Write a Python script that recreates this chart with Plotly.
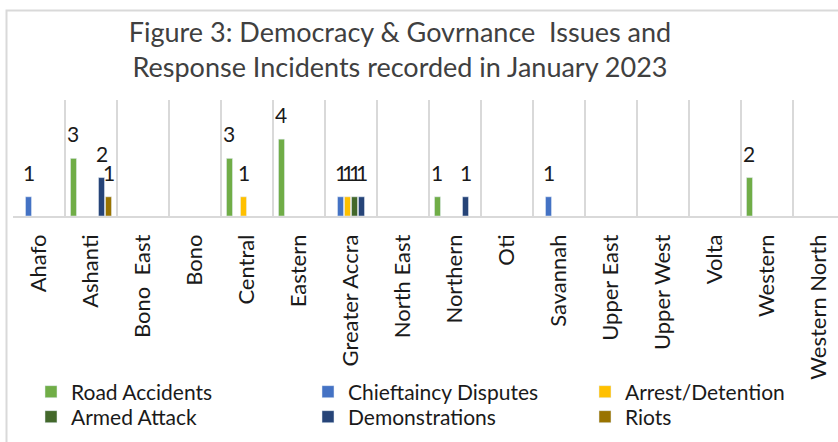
import plotly.graph_objects as go

regions = ["Ahafo", "Ashanti", "Bono\u00a0 East", "Bono", "Central", "Eastern",
           "Greater Accra", "North East", "Northern", "Oti", "Savannah",
           "Upper East", "Upper West", "Volta", "Western", "Western North"]

road_accidents = [None, 3, None, None, 3, 4, None, None, 1, None, None, None, None, None, 2, None]
chieftaincy = [1, None, None, None, None, None, 1, None, None, None, 1, None, None, None, None, None]
arrest = [None, None, None, None, 1, None, 1, None, None, None, None, None, None, None, None, None]
armed_attack = [None, None, None, None, None, None, 1, None, None, None, None, None, None, None, None, None]
demonstrations = [None, 2, None, None, None, None, 1, None, 1, None, None, None, None, None, None, None]
riots = [None, 1, None, None, None, None, None, None, None, None, None, None, None, None, None, None]

series = [
    ("Road Accidents", road_accidents, "#70AD47"),
    ("Chieftaincy Disputes", chieftaincy, "#4472C4"),
    ("Arrest/Detention", arrest, "#FFC000"),
    ("Armed Attack", armed_attack, "#43682B"),
    ("Demonstrations", demonstrations, "#264478"),
    ("Riots", riots, "#997300"),
]

W, H = 838, 442
L, T, PW, PH = 13, 100, 825, 116
cat_w = 52.0
x_hi = -0.5 + PW / cat_w

def px_x(p):
    return (p - L) / PW

def px_y(p):
    return (T + PH - p) / PH

legend_cols = [31, 308, 585]
legend_rows = [392, 417]

fig = go.Figure()
legend_layouts = {}
for si, (name, vals, color) in enumerate(series):
    lg = "legend" if si == 0 else f"legend{si + 1}"
    fig.add_trace(go.Bar(name=name, x=regions, y=vals, marker_color=color,
                         legend=lg, showlegend=True, hoverinfo="x+y+name"))
    legend_layouts[lg] = dict(orientation="v", visible=True,
                              x=px_x(legend_cols[si % 3]), xanchor="left",
                              y=px_y(legend_rows[si // 3]), yanchor="middle",
                              font=dict(family="Lato", size=21, color="#1a1a1a"),
                              bgcolor="rgba(0,0,0,0)")

# data labels
n = len(series)
slot = (1 - 0.192) / n
annotations = []
for si, (name, vals, color) in enumerate(series):
    off = (si - (n - 1) / 2) * slot
    for ci, v in enumerate(vals):
        if v:
            annotations.append(dict(x=ci + off, y=v, xref="x", yref="y",
                                    text=str(v), showarrow=False,
                                    yanchor="bottom", xanchor="center", yshift=10,
                                    font=dict(family="Lato", size=21, color="#1a1a1a")))

fig.update_layout(
    width=W, height=H,
    margin=dict(l=L, r=W - L - PW, t=T, b=H - T - PH, autoexpand=False),
    paper_bgcolor="white", plot_bgcolor="white",
    showlegend=True,
    barmode="group", bargap=0.192, bargroupgap=0.143,
    font=dict(family="Lato", color="#1a1a1a"),
    title=dict(text="Figure 3: Democracy & Govrnance\u00a0 Issues and<br>Response Incidents recorded in January 2023",
               x=400 / W, xanchor="center", xref="container",
               y=1 - 42 / H, yanchor="middle", yref="container",
               font=dict(family="Lato", size=27, color="#404040")),
    xaxis=dict(type="category", range=[-0.5, x_hi], tickson="boundaries",
               showgrid=True, gridcolor="#d9d9d9", gridwidth=1.5,
               showline=True, linecolor="#d9d9d9", linewidth=1.5,
               ticks="", tickangle=-90, ticklabelstandoff=8,
               tickfont=dict(family="Lato", size=22, color="#1a1a1a"),
               automargin=False, fixedrange=True),
    yaxis=dict(range=[0, 6.04], visible=False, showgrid=False, fixedrange=True),
    annotations=annotations,
    shapes=[dict(type="rect", xref="paper", yref="paper",
                 x0=px_x(6.5), x1=px_x(900), y0=px_y(500), y1=px_y(10.5),
                 line=dict(color="#d9d9d9", width=2), fillcolor="rgba(0,0,0,0)", layer="below")],
    **legend_layouts,
)

fig.write_html("out.html")
